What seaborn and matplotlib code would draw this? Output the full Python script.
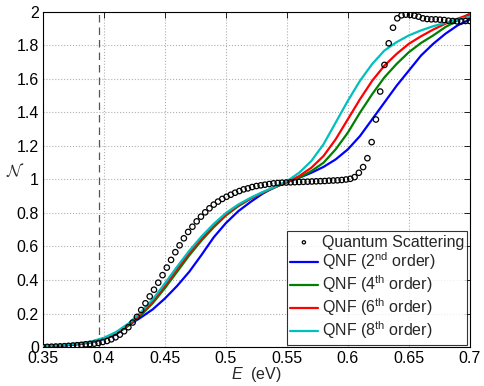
import numpy as np
import pandas as pd
import matplotlib
matplotlib.use("Agg")
import matplotlib.pyplot as plt
import seaborn as sns

# --- data ---
# quantum scattering: evenly spaced energy grid, 0.35 .. 0.70 eV
E_qs = np.linspace(0.35, 0.70, 101)
N_qs = [0.000, 0.001, 0.002, 0.003, 0.004, 0.005, 0.007, 0.009, 0.011, 0.013,
        0.016, 0.018, 0.020, 0.024, 0.030, 0.036, 0.046,
        0.058, 0.074, 0.094, 0.118, 0.146, 0.180,
        0.221, 0.261, 0.302, 0.342, 0.384, 0.429, 0.474, 0.520,
        0.566, 0.607, 0.649, 0.687, 0.718, 0.750, 0.778, 0.804, 0.828, 0.850,
        0.868, 0.884, 0.897, 0.909, 0.921, 0.931, 0.941, 0.947, 0.955, 0.961,
        0.965, 0.969, 0.973, 0.977, 0.979, 0.981,
        0.982, 0.983, 0.984, 0.985, 0.986, 0.987, 0.988, 0.989, 0.990, 0.991, 0.993,
        0.994, 0.995, 0.997, 1.000, 1.004, 1.014, 1.040, 1.074, 1.127, 1.223, 1.358, 1.525,
        1.684, 1.813, 1.906, 1.962, 1.980, 1.984, 1.982, 1.978, 1.972, 1.962, 1.958,
        1.956, 1.956, 1.954, 1.952, 1.948, 1.946, 1.944, 1.944, 1.946, 1.946]

# QNF curves sampled every 0.01 eV
E_qnf = np.linspace(0.35, 0.70, 36)
qnf2 = [0.004, 0.007, 0.011, 0.018, 0.029, 0.047, 0.075, 0.130, 0.175, 0.225,
        0.290, 0.365, 0.450, 0.550, 0.655, 0.740, 0.810, 0.865, 0.915, 0.955,
        0.985, 1.010, 1.040, 1.075, 1.120, 1.180, 1.260, 1.360, 1.460, 1.560,
        1.650, 1.740, 1.810, 1.870, 1.920, 1.955]
qnf4 = [0.005, 0.008, 0.012, 0.019, 0.030, 0.050, 0.081, 0.127, 0.187, 0.262,
        0.352, 0.450, 0.548, 0.636, 0.715, 0.785, 0.840, 0.884, 0.920, 0.952,
        0.985, 1.010, 1.050, 1.100, 1.180, 1.280, 1.400, 1.510, 1.610, 1.690,
        1.760, 1.815, 1.860, 1.910, 1.950, 1.990]
qnf6 = [0.005, 0.008, 0.013, 0.020, 0.032, 0.052, 0.085, 0.133, 0.196, 0.274,
        0.367, 0.466, 0.562, 0.648, 0.725, 0.792, 0.845, 0.887, 0.922, 0.953,
        0.985, 1.020, 1.070, 1.140, 1.240, 1.360, 1.480, 1.590, 1.680, 1.750,
        1.810, 1.855, 1.895, 1.930, 1.960, 1.985]
qnf8 = [0.006, 0.009, 0.014, 0.022, 0.034, 0.055, 0.090, 0.140, 0.205, 0.285,
        0.380, 0.480, 0.575, 0.660, 0.735, 0.800, 0.850, 0.890, 0.925, 0.955,
        0.990, 1.040, 1.110, 1.210, 1.340, 1.470, 1.590, 1.690, 1.770, 1.820,
        1.860, 1.890, 1.915, 1.935, 1.955, 1.970]

labels = ['QNF (2$^{\\rm nd}$ order)', 'QNF (4$^{\\rm th}$ order)',
          'QNF (6$^{\\rm th}$ order)', 'QNF (8$^{\\rm th}$ order)']
colors = ['#0000ff', '#008000', '#ff0000', '#00bfbf']
E_threshold = 0.396

sns.set_theme(style="white")
plt.rcParams['font.family'] = ['Liberation Sans', 'DejaVu Sans']
plt.rcParams['mathtext.fontset'] = 'custom'
plt.rcParams['mathtext.rm'] = 'Liberation Sans'
plt.rcParams['mathtext.it'] = 'Liberation Sans:italic'

fig = plt.figure(figsize=(4.85, 3.86), dpi=100)
ax = fig.add_axes([0.0887, 0.101, 0.880, 0.868])

ax.axvline(E_threshold, color='#555555', lw=0.9, ls=(0, (6, 4)), zorder=1)

sns.scatterplot(x=E_qs, y=N_qs, ax=ax, marker='o', s=15, facecolor='none',
                edgecolor='black', linewidth=0.9, label='Quantum Scattering', zorder=4)

for vals, lab, col in zip([qnf2, qnf4, qnf6, qnf8], labels, colors):
    sns.lineplot(x=E_qnf, y=vals, ax=ax, color=col, lw=1.6, label=lab, zorder=3)

ax.set_xlim(0.35, 0.7)
ax.set_ylim(0, 2)
xt = [0.35, 0.4, 0.45, 0.5, 0.55, 0.6, 0.65, 0.7]
yt = [0, 0.2, 0.4, 0.6, 0.8, 1, 1.2, 1.4, 1.6, 1.8, 2]
ax.set_xticks(xt)
ax.set_xticklabels([f'{v:g}' for v in xt])
ax.set_yticks(yt)
ax.set_yticklabels([f'{v:g}' for v in yt])
ax.tick_params(direction='in', length=4, width=0.6, top=True, right=True,
               labelsize=11.5, pad=3, colors='black')
ax.grid(True, ls=':', color='#b0b0b0', lw=0.8)
for s in ax.spines.values():
    s.set_visible(True)
    s.set_color('black')
    s.set_linewidth(0.8)

ax.set_xlabel('$E$  (eV)', fontsize=11.5, labelpad=-1)
ax.set_ylabel('$\\mathcal{N}$', fontsize=12, rotation=0, math_fontfamily='cm')
ax.yaxis.set_label_coords(-0.065, 0.5)

leg = ax.legend(loc='lower right', fontsize=11.5, frameon=True, fancybox=False,
                edgecolor='black', handlelength=1.75, handletextpad=0.25,
                borderpad=0.2, labelspacing=0.08, borderaxespad=0.15, markerscale=0.6)
leg.get_frame().set_linewidth(0.8)

fig.savefig('out.png', dpi=100)
